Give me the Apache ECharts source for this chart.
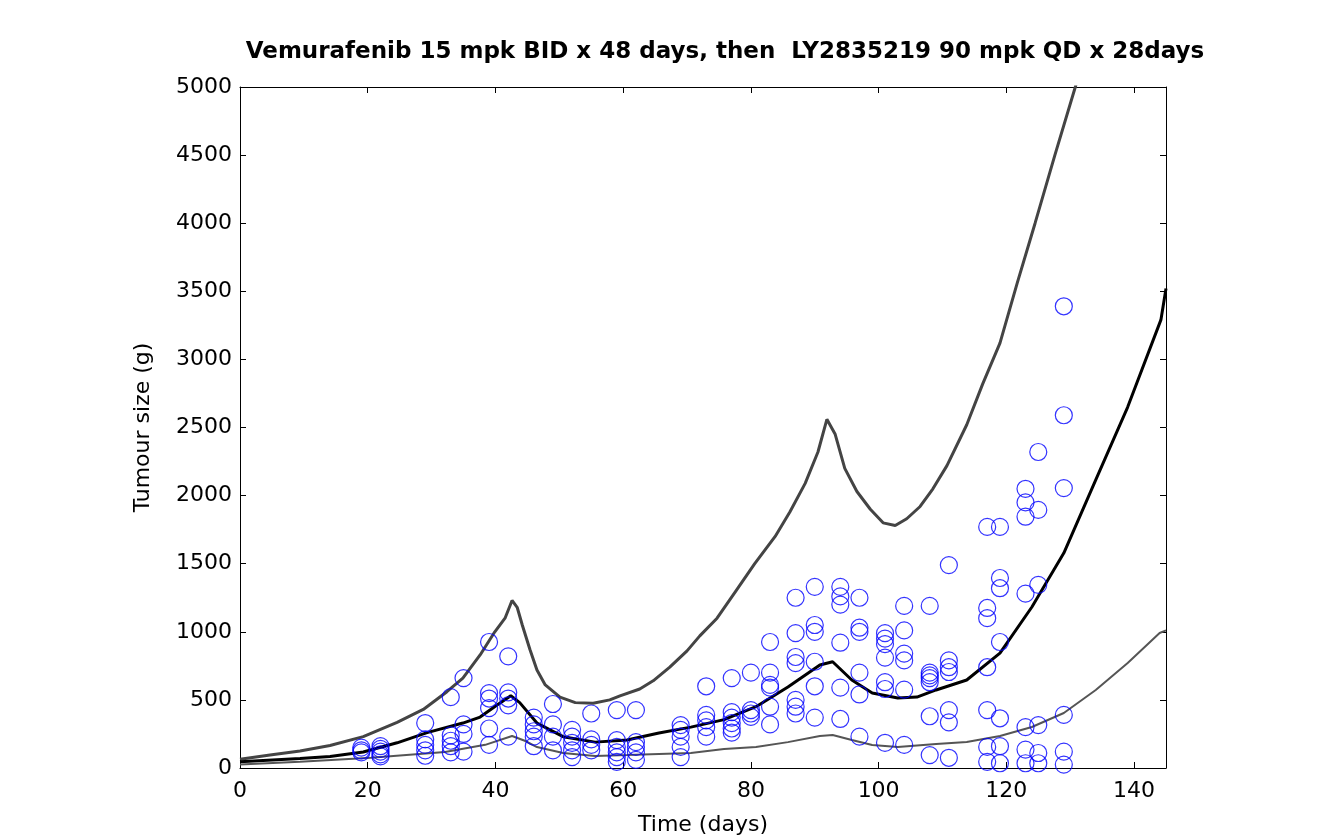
<!DOCTYPE html>
<html>
<head>
<meta charset="utf-8">
<script src="https://cdn.jsdelivr.net/npm/echarts@6/dist/echarts.min.js"></script>
<style>
  html, body { margin: 0; padding: 0; background: #fff; }
  #chart { width: 1327px; height: 837px; }
</style>
</head>
<body>
<div id="chart"></div>
<script>
// Simulated tumour size bands: [day, size]
const upperBand = [
  [0, 65], [4.7, 95], [9.4, 125], [14.1, 165], [19.3, 230], [24.6, 335],
  [28.7, 430], [32.4, 560], [34.9, 660], [37.6, 830], [39.9, 1000], [41.5, 1100],
  [42.6, 1230], [43.4, 1180], [44.2, 1050], [45.4, 870], [46.5, 720], [47.8, 610],
  [50.1, 520], [52.5, 480], [55.3, 475], [57.9, 500], [59.5, 530], [62.6, 580],
  [64.7, 640], [67.3, 740], [70, 860], [72, 970], [74.7, 1100], [77.5, 1290],
  [80.6, 1500], [83.8, 1700], [86.1, 1880], [88.5, 2090], [90.5, 2320], [91.9, 2560],
  [93.2, 2450], [94.7, 2200], [96.6, 2030], [98.7, 1900], [100.7, 1800], [102.6, 1780],
  [104.4, 1830], [106.5, 1920], [108.5, 2050], [110.7, 2220], [113.8, 2520], [116.3, 2820],
  [119, 3120], [121.7, 3560], [124.5, 4000], [127.6, 4500], [130.8, 5000], [133.1, 5400]
];

const medianBand = [
  [0, 45], [9.4, 70], [14.1, 85], [19.3, 117], [24.6, 185], [29.3, 260],
  [34.9, 330], [37.6, 374], [40.2, 460], [42.4, 530], [43.8, 480], [46.5, 330],
  [50.6, 230], [55.6, 190], [60.6, 205], [65.6, 257], [70.6, 300], [75.8, 355],
  [80.8, 450], [85.8, 595], [90.8, 756], [92.8, 780], [95.8, 646], [99, 550],
  [103, 514], [106, 521], [109, 573], [113.8, 646], [119, 844], [124, 1182],
  [129, 1578], [134, 2115], [139, 2650], [144.2, 3290], [145, 3520]
];

const lowerBand = [
  [0, 25], [9.4, 45], [20.5, 75], [32.1, 117], [38.4, 170], [42.6, 235],
  [44.6, 200], [46.5, 154], [50.6, 110], [55.6, 88], [60.6, 95], [65.6, 103],
  [70.6, 110], [75.8, 140], [80.8, 154], [85.8, 190], [90.8, 235], [92.8, 242],
  [95.8, 205], [99, 169], [103, 154], [109, 176], [113.8, 191], [119, 235],
  [124, 301], [129, 404], [134, 573], [139, 771], [144, 991], [145, 1010]
];

// Observed tumour sizes per measurement day
const obsDays = [19, 22, 29, 33, 35, 39, 42, 46, 49, 52, 55, 59, 62, 69, 73, 77, 80, 83,
  87, 90, 94, 97, 101, 104, 108, 111, 117, 119, 123, 125, 129];
const obsSizes = [
  [150, 130, 115],
  [160, 140, 120, 100, 85],
  [330, 210, 170, 130, 90],
  [520, 240, 200, 160, 115],
  [660, 320, 250, 120],
  [925, 550, 510, 440, 290, 170],
  [820, 555, 510, 460, 230],
  [370, 320, 270, 230, 160],
  [470, 320, 230, 130],
  [280, 230, 185, 130, 80],
  [400, 210, 170, 130],
  [425, 205, 155, 115, 80, 45],
  [425, 190, 155, 115, 60],
  [315, 280, 230, 155, 80],
  [600, 390, 350, 300, 230],
  [660, 410, 370, 330, 290, 260],
  [700, 425, 400, 375],
  [925, 700, 610, 590, 450, 320],
  [1250, 990, 815, 770, 500, 450, 400],
  [1330, 1050, 1000, 780, 600, 370],
  [1330, 1260, 1200, 920, 590, 360],
  [1250, 1030, 1000, 700, 540, 230],
  [990, 950, 910, 810, 630, 580, 185],
  [1190, 1010, 840, 790, 575, 170],
  [1190, 700, 680, 660, 630, 380, 95],
  [1490, 790, 740, 705, 425, 335, 75],
  [1770, 1175, 1100, 740, 425, 155, 45],
  [1770, 1395, 1320, 925, 365, 160, 35],
  [2050, 1950, 1845, 1280, 300, 135, 35],
  [2320, 1895, 1345, 315, 110, 35],
  [3390, 2590, 2055, 390, 120, 25]
];

const observed = [];
obsDays.forEach((d, i) => obsSizes[i].forEach(v => observed.push([d, v])));

const chart = echarts.init(document.getElementById("chart"), null, { renderer: "canvas" });

const font = "'DejaVu Sans', Arial, sans-serif";
const axisLine = { show: true, onZero: false, lineStyle: { color: "#000", width: 1 } };
const tick = { show: true, inside: true, length: 6, lineStyle: { color: "#000" } };

const option = {
  animation: false,
  backgroundColor: "#fff",
  title: {
    text: "Vemurafenib 15 mpk BID x 48 days, then  LY2835219 90 mpk QD x 28days",
    left: 720,
    top: 36,
    textAlign: "center",
    textStyle: { fontFamily: font, fontSize: 23, fontWeight: "bold", color: "#000" }
  },
  grid: { left: 240, right: 161, top: 87, bottom: 69, containLabel: false, outerBoundsMode: "none" },
  xAxis: [
    {
      type: "value",
      min: 0,
      max: 145,
      interval: 20,
      name: "Time (days)",
      nameLocation: "middle",
      nameGap: 46,
      nameTextStyle: { fontFamily: font, fontSize: 22, color: "#000" },
      axisLine: axisLine,
      axisTick: tick,
      axisLabel: { fontFamily: font, fontSize: 22, color: "#000", margin: 12, showMaxLabel: false },
      splitLine: { show: false }
    },
    {
      type: "value",
      position: "top",
      min: 0,
      max: 145,
      interval: 20,
      axisLine: axisLine,
      axisTick: tick,
      axisLabel: { show: false },
      splitLine: { show: false }
    }
  ],
  yAxis: [
    {
      type: "value",
      min: 0,
      max: 5000,
      interval: 500,
      name: "Tumour size (g)",
      nameLocation: "middle",
      nameGap: 86,
      nameTextStyle: { fontFamily: font, fontSize: 22, color: "#000" },
      axisLine: axisLine,
      axisTick: tick,
      axisLabel: { fontFamily: font, fontSize: 22, color: "#000", margin: 8, formatter: v => String(v) },
      splitLine: { show: false }
    },
    {
      type: "value",
      position: "right",
      min: 0,
      max: 5000,
      interval: 500,
      axisLine: axisLine,
      axisTick: tick,
      axisLabel: { show: false },
      splitLine: { show: false }
    }
  ],
  series: [
    {
      name: "Upper",
      type: "line",
      data: upperBand,
      showSymbol: false,
      clip: true,
      lineStyle: { color: "#444", width: 3 },
      z: 2
    },
    {
      name: "Median",
      type: "line",
      data: medianBand,
      showSymbol: false,
      clip: true,
      lineStyle: { color: "#000", width: 3 },
      z: 2
    },
    {
      name: "Lower",
      type: "line",
      data: lowerBand,
      showSymbol: false,
      clip: true,
      lineStyle: { color: "#555", width: 2 },
      z: 2
    },
    {
      name: "Observed",
      type: "scatter",
      data: observed,
      symbol: "circle",
      symbolSize: 17,
      itemStyle: { color: "rgba(0,0,0,0)", borderColor: "#0000ff", borderWidth: 1.2 },
      z: 3
    }
  ]
};

chart.setOption(option);
</script>
</body>
</html>
